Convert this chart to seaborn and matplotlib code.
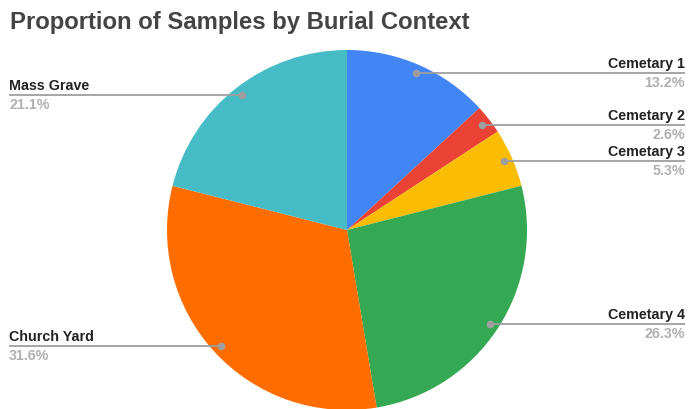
import numpy as np
import matplotlib
matplotlib.use("Agg")
import matplotlib.pyplot as plt
import seaborn as sns

# Samples per burial context
contexts = ["Cemetary 1", "Cemetary 2", "Cemetary 3", "Cemetary 4", "Church Yard", "Mass Grave"]
counts = [5, 1, 2, 10, 12, 8]
colors = ["#4285F4", "#EA4335", "#FBBC04", "#34A853", "#FF6D01", "#46BDC6"]
title = "Proportion of Samples by Burial Context"

sns.set_style("white")
plt.rcParams["font.family"] = ["Liberation Sans", "DejaVu Sans"]

W, H = 688, 410
fig = plt.figure(figsize=(W / 100, H / 100), dpi=100)
ax = fig.add_axes([0, 0, 1, 1])

cx, cy, r = 347, 179, 180
wedges, _ = ax.pie(counts, colors=colors, startangle=90, counterclock=False,
                   center=(cx, cy), radius=r, frame=True,
                   wedgeprops=dict(linewidth=0))
ax.set_xlim(0, W)
ax.set_ylim(0, H)
ax.set_aspect("equal")
ax.axis("off")

total = sum(counts)
line_col = "#9e9e9e"
for w, name, c in zip(wedges, contexts, counts):
    mid = np.deg2rad((w.theta1 + w.theta2) / 2)
    dx, dy = cx + 0.95 * r * np.cos(mid), cy + 0.95 * r * np.sin(mid)
    right = np.cos(mid) > 0
    x_end = 685 if right else 9
    ax.plot([dx, x_end], [dy, dy], color=line_col, lw=1.3, solid_capstyle="butt", zorder=3)
    ax.plot([dx], [dy], "o", color=line_col, ms=4.5, zorder=4)
    ha = "right" if right else "left"
    ax.text(x_end, dy + 3, name, ha=ha, va="bottom", fontsize=10.3,
            fontweight="bold", color="#222222")
    ax.text(x_end, dy - 2, f"{100 * c / total:.1f}%", ha=ha, va="top",
            fontsize=10.3, fontweight="bold", color="#b0b0b0")

fig.text(10 / W, 1 - 22 / H, title, ha="left", va="center", fontsize=17.2,
         fontweight="bold", color="#444444")

fig.savefig("out.png", dpi=100)
